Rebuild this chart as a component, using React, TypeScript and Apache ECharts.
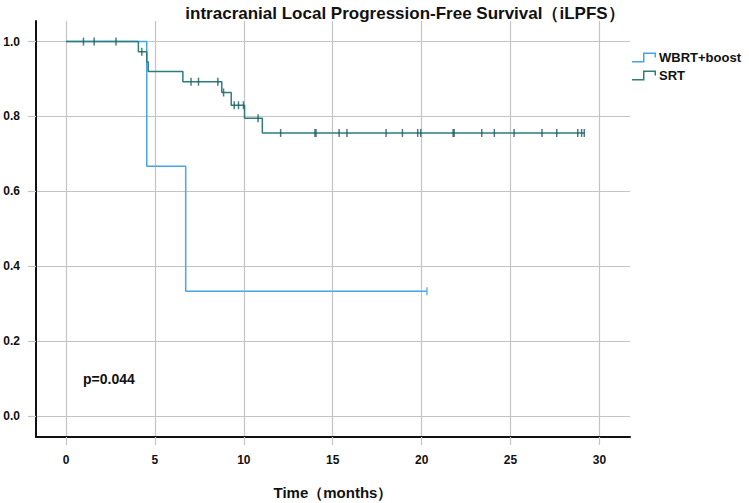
import React, { useEffect, useRef } from "react";
import * as echarts from "echarts";

const titleText = "intracranial Local Progression-Free Survival（iLPFS）";
const xAxisName = "Time（months）";
const seriesNames = ["WBRT+boost", "SRT"];
const pValueText = "p=0.044";
const xTicks = [0, 5, 10, 15, 20, 25, 30];
const yTicks = [0.0, 0.2, 0.4, 0.6, 0.8, 1.0];

// Kaplan–Meier step points [time, survival]
const wbrtSteps: [number, number][] = [
  [0, 1.0],
  [4.54, 0.667],
  [6.73, 0.333],
  [20.3, 0.333],
];
const wbrtCensored: [number, number][] = [[20.3, 0.333]];

const srtSteps: [number, number][] = [
  [0, 1.0],
  [4.07, 0.973],
  [4.54, 0.946],
  [4.62, 0.92],
  [6.57, 0.893],
  [8.76, 0.864],
  [9.29, 0.83],
  [10.04, 0.795],
  [11.04, 0.756],
  [29.15, 0.756],
];
const srtCensored: [number, number][] = [
  [0.98, 1.0], [1.58, 1.0], [2.81, 1.0],
  [4.26, 0.973],
  [7.03, 0.893], [7.45, 0.893], [8.54, 0.893],
  [8.86, 0.864],
  [9.46, 0.83], [9.7, 0.83], [9.98, 0.83],
  [10.8, 0.795],
  [12.07, 0.756], [14.0, 0.756], [14.06, 0.756], [15.36, 0.756], [15.8, 0.756],
  [18.0, 0.756], [18.92, 0.756], [19.78, 0.756], [19.95, 0.756],
  [21.77, 0.756], [21.83, 0.756], [23.38, 0.756], [24.09, 0.756], [25.2, 0.756],
  [26.77, 0.756], [27.6, 0.756], [28.78, 0.756], [29.0, 0.756], [29.15, 0.756],
];

const BLUE = "#45a6e8";
const TEAL = "#2f7c7e";
const TEAL_DARK = "#1d5d5f";
const GRID = "#c4c4c4";
const FONT = "'Liberation Sans', Arial, sans-serif";

const stepIcon = "path://M0 8.5 H11 V0 H24 V5 H22.5 V1.5 H12.5 V10 H0 Z";

export default function App() {
  const ref = useRef<HTMLDivElement>(null);
  useEffect(() => {
    if (!ref.current) return;
    const chart = echarts.init(ref.current, null, { renderer: "svg" });
    chart.setOption({
      animation: false,
      backgroundColor: "#ffffff",
      title: {
        text: titleText,
        left: 400,
        textAlign: "center",
        top: 0,
        textStyle: { fontFamily: FONT, fontSize: 17, fontWeight: "bold", color: "#111" },
      },
      legend: {
        data: seriesNames.map((n, i) => ({
          name: n,
          icon: stepIcon,
          itemStyle: { color: i === 0 ? BLUE : TEAL },
        })),
        orient: "vertical",
        left: 632,
        top: 51,
        padding: 0,
        itemWidth: 26,
        itemHeight: 10,
        itemGap: 5,
        textStyle: { fontFamily: FONT, fontSize: 13, fontWeight: "bold", color: "#111", padding: [0, 0, 0, -3] },
      },
      grid: { left: 36, right: 119, top: 21, bottom: 66, containLabel: false, outerBoundsMode: "none" },
      xAxis: {
        type: "value",
        min: -1.69,
        max: 31.72,
        name: xAxisName,
        nameLocation: "middle",
        nameGap: 48,
        nameTextStyle: { fontFamily: FONT, fontSize: 15, fontWeight: "bold", color: "#111" },
        axisLine: { show: true, onZero: false, lineStyle: { color: "#111", width: 2 } },
        axisTick: { show: true, customValues: xTicks, length: 8, inside: false, lineStyle: { color: GRID, width: 1.2 } },
        axisLabel: { show: true, customValues: xTicks, margin: 17, fontFamily: FONT, fontSize: 12, fontWeight: "bold", color: "#111" },
        splitLine: { show: true, lineStyle: { color: GRID, width: 1.2 } },
      },
      yAxis: {
        type: "value",
        min: -0.056,
        max: 1.055,
        axisLine: { show: true, onZero: false, lineStyle: { color: "#111", width: 2 } },
        axisTick: { show: true, customValues: yTicks, length: 8, inside: false, lineStyle: { color: GRID, width: 1.2 } },
        axisLabel: {
          show: true,
          customValues: yTicks,
          margin: 16,
          formatter: (v: number) => v.toFixed(1),
          fontFamily: FONT,
          fontSize: 12,
          fontWeight: "bold",
          color: "#111",
        },
        splitLine: { show: true, lineStyle: { color: GRID, width: 1.2 } },
      },
      series: [
        {
          name: seriesNames[0],
          type: "line",
          step: "end",
          data: wbrtSteps,
          showSymbol: false,
          symbol: "none",
          lineStyle: { color: BLUE, width: 1.5 },
          itemStyle: { color: BLUE },
          z: 3,
        },
        {
          name: seriesNames[1],
          type: "line",
          step: "end",
          data: srtSteps,
          showSymbol: false,
          symbol: "none",
          lineStyle: { color: TEAL, width: 1.5 },
          itemStyle: { color: TEAL },
          z: 4,
        },
        {
          name: seriesNames[0] + " censored",
          type: "scatter",
          data: wbrtCensored,
          symbol: "rect",
          symbolSize: [1.5, 8],
          itemStyle: { color: BLUE },
          z: 5,
        },
        {
          name: seriesNames[1] + " censored",
          type: "scatter",
          data: srtCensored,
          symbol: "rect",
          symbolSize: [1.5, 8],
          itemStyle: { color: TEAL_DARK },
          z: 6,
        },
      ],
      graphic: [
        {
          type: "text",
          left: 83,
          top: 372,
          style: { text: pValueText, fontFamily: FONT, fontSize: 14, fontWeight: "bold", fill: "#111" },
        },
      ],
    });
    return () => chart.dispose();
  }, []);
  return <div ref={ref} style={{ position: "fixed", left: 0, top: 0, width: 749, height: 503 }} />;
}
